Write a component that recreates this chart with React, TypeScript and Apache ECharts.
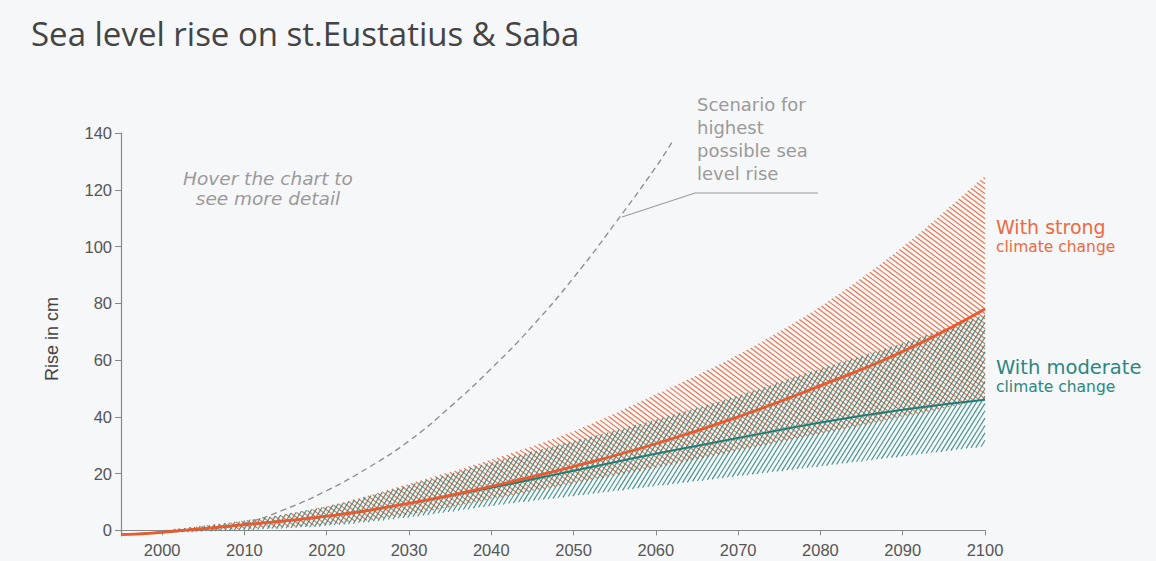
import React, { useEffect, useRef } from "react";
import * as echarts from "echarts";

// ---- data ----
const medianYears = [1995, 2000, 2010, 2020, 2030, 2040, 2050, 2060, 2070, 2080, 2090, 2100];
const strongMedian = [-1.5, -0.7, 2, 5, 9.5, 15.5, 22.5, 30.5, 40, 51, 63, 78];
const moderateMedian = [-1.5, -0.7, 2, 5, 9.5, 15, 21, 27, 32.5, 38, 42.5, 46];

const bandYears = [2000, 2010, 2020, 2030, 2040, 2050, 2060, 2070, 2080, 2090, 2100];
const strongUpper = [0, 3.5, 8.5, 16.5, 25, 35, 48, 62, 79, 100, 125];
const strongLower = [-1, 0.5, 2, 5.5, 11, 16.5, 22, 28, 34, 40, 46];
const moderateUpper = [0, 3.5, 8.5, 16, 24, 31.5, 39, 47.5, 57, 66, 76];
const moderateLower = [-1, 0, 1.5, 4.5, 8.5, 12, 15.5, 19, 22.5, 26, 29.5];

const highYears = [2005, 2010, 2015, 2020, 2025, 2030, 2035, 2040, 2045, 2050, 2055, 2060, 2062];
const highValues = [0, 2.5, 7.5, 14, 22, 31.5, 43.5, 57, 72, 89, 108, 128, 137];

const xTicks = [2000, 2010, 2020, 2030, 2040, 2050, 2060, 2070, 2080, 2090, 2100];
const yTicks = [0, 20, 40, 60, 80, 100, 120, 140];

const ORANGE = "#ea5a2e";
const TEAL = "#1f7f78";

// monotone cubic interpolation (Fritsch-Carlson) in pixel space
function monotone(xs: number[], ys: number[]) {
  const n = xs.length;
  const d: number[] = [];
  const m: number[] = [];
  for (let i = 0; i < n - 1; i++) d.push((ys[i + 1] - ys[i]) / (xs[i + 1] - xs[i]));
  m.push(d[0]);
  for (let i = 1; i < n - 1; i++) m.push(d[i - 1] * d[i] <= 0 ? 0 : (d[i - 1] + d[i]) / 2);
  m.push(d[n - 2]);
  for (let i = 0; i < n - 1; i++) {
    if (d[i] === 0) {
      m[i] = 0;
      m[i + 1] = 0;
      continue;
    }
    const a = m[i] / d[i];
    const b = m[i + 1] / d[i];
    const s = a * a + b * b;
    if (s > 9) {
      const t = 3 / Math.sqrt(s);
      m[i] = t * a * d[i];
      m[i + 1] = t * b * d[i];
    }
  }
  return (x: number) => {
    let i = 0;
    while (i < n - 2 && x > xs[i + 1]) i++;
    const h = xs[i + 1] - xs[i];
    const t = Math.min(1, Math.max(0, (x - xs[i]) / h));
    const t2 = t * t;
    const t3 = t2 * t;
    return (
      (2 * t3 - 3 * t2 + 1) * ys[i] +
      (t3 - 2 * t2 + t) * h * m[i] +
      (-2 * t3 + 3 * t2) * ys[i + 1] +
      (t3 - t2) * h * m[i + 1]
    );
  };
}

// draws a band between lower and upper as hatch lines, positioned through the axes (api.coord)
function hatchBand(
  api: any,
  years: number[],
  lower: number[],
  upper: number[],
  slope: number,
  spacing: number,
  color: string,
  width: number
) {
  const up = years.map((yr, i) => api.coord([yr, upper[i]]));
  const lo = years.map((yr, i) => api.coord([yr, lower[i]]));
  const xs = up.map((p: number[]) => p[0]);
  const fTop = monotone(xs, up.map((p: number[]) => p[1]));
  const fBot = monotone(xs, lo.map((p: number[]) => p[1]));
  const x0 = xs[0];
  const x1 = xs[xs.length - 1];
  const dx = 0.4;
  const N = Math.ceil((x1 - x0) / dx);
  const sx: number[] = [];
  const st: number[] = [];
  const sb: number[] = [];
  let cmin = Infinity;
  let cmax = -Infinity;
  for (let j = 0; j <= N; j++) {
    const x = Math.min(x1, x0 + j * dx);
    const t = fTop(x);
    const b = fBot(x);
    sx.push(x);
    st.push(t);
    sb.push(b);
    cmin = Math.min(cmin, t - slope * x, b - slope * x);
    cmax = Math.max(cmax, t - slope * x, b - slope * x);
  }
  const step = spacing * Math.sqrt(1 + slope * slope);
  const children: any[] = [];
  for (let c = Math.floor(cmin / step) * step; c <= cmax; c += step) {
    let start = -1;
    for (let j = 0; j <= N + 1; j++) {
      let inside = false;
      if (j <= N) {
        const y = c + slope * sx[j];
        inside = y >= st[j] && y <= sb[j];
      }
      if (inside && start < 0) start = j;
      if (!inside && start >= 0) {
        const e = j - 1;
        const xa = sx[start];
        const xb = e === start ? sx[e] + 0.3 : sx[e];
        children.push({
          type: "line",
          silent: true,
          shape: { x1: xa, y1: c + slope * xa, x2: xb, y2: c + slope * xb },
          style: { stroke: color, lineWidth: width },
        });
        start = -1;
      }
    }
  }
  return { type: "group", children };
}

const pairs = (xs: number[], ys: number[]) => xs.map((x, i) => [x, ys[i]]);
const triples = (xs: number[], lo: number[], up: number[]) => xs.map((x, i) => [x, lo[i], up[i]]);

export default function App() {
  const ref = useRef<HTMLDivElement>(null);
  useEffect(() => {
    if (!ref.current) return;
    const chart = echarts.init(ref.current, null, { renderer: "svg" });
    const axisFont = "'Liberation Sans', Arial, sans-serif";
    const annFont = "'DejaVu Sans', 'Noto Sans', sans-serif";
    const titleFont = "'Open Sans', 'Noto Sans', sans-serif";
    chart.setOption({
      animation: false,
      backgroundColor: "#f6f7f9",
      title: {
        text: "Sea level rise on st.Eustatius & Saba",
        left: 26,
        top: 12,
        textStyle: { fontSize: 33, fontWeight: 400, color: "#444", fontFamily: titleFont },
      },
      grid: { left: 121, right: 171, top: 133, bottom: 25 },
      xAxis: {
        type: "value",
        min: 1995,
        max: 2100,
        splitLine: { show: false },
        axisLine: { show: true, onZero: true, lineStyle: { color: "#888", width: 1.2 } },
        axisTick: { show: true, length: 5, customValues: xTicks, lineStyle: { color: "#888" } },
        axisLabel: {
          customValues: xTicks,
          formatter: (v: number) => String(v),
          color: "#555",
          fontSize: 16.5,
          margin: 5,
          fontFamily: axisFont,
        },
      },
      yAxis: {
        type: "value",
        min: -2,
        max: 140,
        splitLine: { show: false },
        axisLine: { show: true, lineStyle: { color: "#888", width: 1.2 } },
        axisTick: { show: true, length: 6, customValues: yTicks, lineStyle: { color: "#888" } },
        axisLabel: {
          customValues: yTicks,
          formatter: (v: number) => String(v),
          color: "#555",
          fontSize: 16.5,
          margin: 9,
          fontFamily: axisFont,
        },
      },
      series: [
        {
          type: "custom",
          silent: true,
          encode: { x: 0, y: [1, 2] },
          data: triples(bandYears, strongLower, strongUpper),
          renderItem: (params: any, api: any) =>
            params.dataIndex === 0
              ? hatchBand(api, bandYears, strongLower, strongUpper, 0.75, 4.0, "rgba(236,106,62,0.92)", 1.2)
              : null,
        },
        {
          type: "custom",
          silent: true,
          encode: { x: 0, y: [1, 2] },
          data: triples(bandYears, moderateLower, moderateUpper),
          renderItem: (params: any, api: any) =>
            params.dataIndex === 0
              ? hatchBand(api, bandYears, moderateLower, moderateUpper, -1.6, 3.9, "rgba(36,130,122,0.82)", 1.2)
              : null,
        },
        {
          type: "line",
          data: pairs(highYears, highValues),
          smooth: true,
          symbol: "none",
          lineStyle: { color: "#8f8f8f", width: 1.4, type: [6, 4] },
        },
        {
          type: "line",
          data: pairs(medianYears, moderateMedian),
          smooth: true,
          symbol: "none",
          lineStyle: { color: TEAL, width: 2 },
        },
        {
          type: "line",
          data: pairs(medianYears, strongMedian),
          smooth: true,
          symbol: "none",
          lineStyle: { color: ORANGE, width: 2.8 },
        },
      ],
      graphic: [
        {
          type: "text",
          x: 52,
          y: 339,
          rotation: Math.PI / 2,
          style: {
            text: "Rise in cm",
            fill: "#444",
            fontSize: 18,
            fontFamily: axisFont,
            align: "center",
            verticalAlign: "middle",
          },
        },
        {
          type: "text",
          x: 268,
          y: 168,
          style: {
            text: "Hover the chart to\nsee more detail",
            fill: "#9a9a9a",
            fontSize: 18.5,
            fontStyle: "italic",
            fontFamily: annFont,
            lineHeight: 20,
            align: "center",
            verticalAlign: "top",
          },
        },
        {
          type: "text",
          x: 697,
          y: 93,
          style: {
            text: "Scenario for\nhighest\npossible sea\nlevel rise",
            fill: "#9a9a9a",
            fontSize: 18,
            fontFamily: annFont,
            lineHeight: 23,
            align: "left",
            verticalAlign: "top",
          },
        },
        {
          type: "polyline",
          shape: { points: [[622, 217], [695, 193], [818, 193]] },
          style: { stroke: "#9a9a9a", lineWidth: 1.2, fill: "none" },
        },
        {
          type: "text",
          x: 996,
          y: 227,
          style: { text: "With strong", fill: "#ec6a40", fontSize: 19, fontFamily: annFont, verticalAlign: "middle" },
        },
        {
          type: "text",
          x: 996,
          y: 247,
          style: { text: "climate change", fill: "#ec6a40", fontSize: 15.5, fontFamily: annFont, verticalAlign: "middle" },
        },
        {
          type: "text",
          x: 996,
          y: 367,
          style: { text: "With moderate", fill: "#2b8781", fontSize: 19.5, fontFamily: annFont, verticalAlign: "middle" },
        },
        {
          type: "text",
          x: 996,
          y: 387,
          style: { text: "climate change", fill: "#2b8781", fontSize: 15.5, fontFamily: annFont, verticalAlign: "middle" },
        },
      ],
    });
    return () => chart.dispose();
  }, []);
  return (
    <div
      ref={ref}
      style={{ position: "absolute", left: 0, top: 0, width: 1156, height: 561 }}
    />
  );
}
